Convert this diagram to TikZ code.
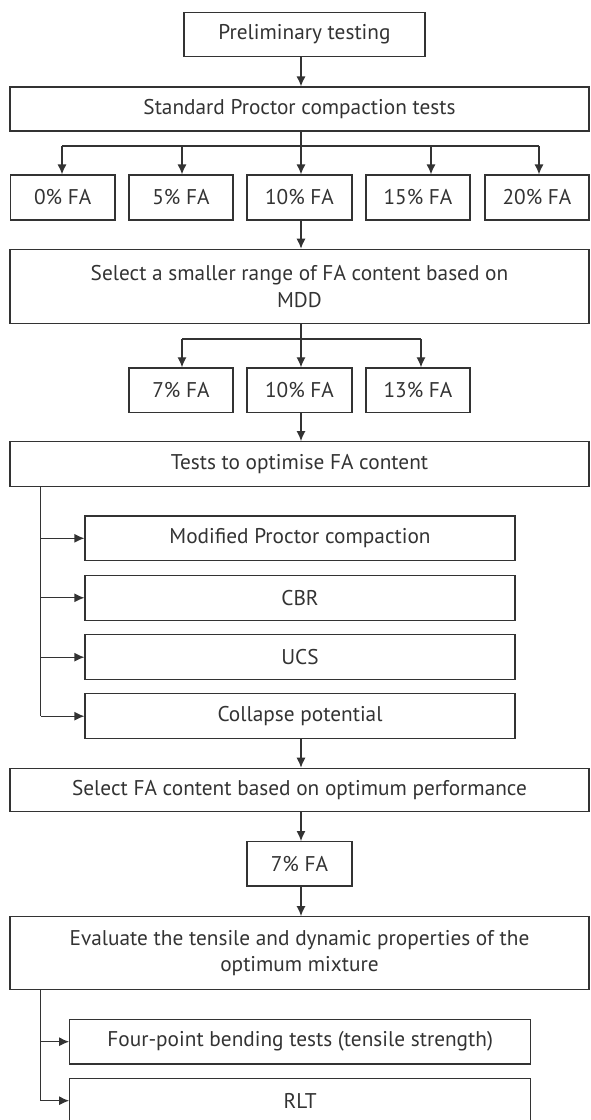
\documentclass[tikz,border=0pt]{standalone}
\usepackage{fontspec}
\setmainfont{PT Sans}
\usetikzlibrary{arrows.meta,calc}
\definecolor{ink}{HTML}{333333}
\tikzset{
  box/.style={draw=ink, line width=1.2pt, rectangle, inner sep=0pt, align=center,
    font=\fontsize{21.3}{26.6}\selectfont, text=ink},
  conn/.style={draw=ink, line width=1.2pt},
  arr/.style={draw=ink, line width=1.2pt, -{Latex[length=10pt,width=9pt]}},
}
\begin{document}
\begin{tikzpicture}[x=1pt,y=-1pt]
\useasboundingbox (0,0) rectangle (590,1120);
\node[box, minimum width=241pt, minimum height=44.4pt] (pre) at (304.5,34.5) {Preliminary testing};
\node[box, minimum width=579pt, minimum height=44pt] (spc) at (299.5,109) {Standard Proctor compaction tests};
\node[box, minimum width=104.5pt, minimum height=45pt] (fa0) at (62.75,197.5) {0\% FA};
\node[box, minimum width=104pt, minimum height=45pt] (fa5) at (181,197.5) {5\% FA};
\node[box, minimum width=105pt, minimum height=45pt] (fa10) at (299.5,197.5) {10\% FA};
\node[box, minimum width=104pt, minimum height=45pt] (fa15) at (418,197.5) {15\% FA};
\node[box, minimum width=104pt, minimum height=45pt] (fa20) at (537,197.5) {20\% FA};
\node[box, minimum width=579pt, minimum height=74pt] (sel) at (299.5,286.3) {Select a smaller range of FA content based on\\MDD};
\node[box, minimum width=104pt, minimum height=44.7pt] (b7) at (181,390.3) {7\% FA};
\node[box, minimum width=105pt, minimum height=44.7pt] (b10) at (299.5,390.3) {10\% FA};
\node[box, minimum width=104pt, minimum height=44.7pt] (b13) at (418,390.3) {13\% FA};
\node[box, minimum width=579pt, minimum height=45pt] (tests) at (299.5,464.2) {Tests to optimise FA content};
\node[box, minimum width=430pt, minimum height=44.7pt] (mod) at (300,538.3) {Modified Proctor compaction};
\node[box, minimum width=430pt, minimum height=44.7pt] (cbr) at (300,597.8) {CBR};
\node[box, minimum width=430pt, minimum height=44.7pt] (ucs) at (300,657.2) {UCS};
\node[box, minimum width=430pt, minimum height=44.7pt] (col) at (300,716.2) {Collapse potential};
\node[box, minimum width=579pt, minimum height=43.4pt] (selfa) at (299.5,790) {Select FA content based on optimum performance};
\node[box, minimum width=105pt, minimum height=44.3pt] (s7) at (299.5,863.8) {7\% FA};
\node[box, minimum width=579pt, minimum height=72.6pt] (eval) at (299.5,953) {Evaluate the tensile and dynamic properties of the\\optimum mixture};
\node[box, minimum width=461pt, minimum height=44.7pt] (four) at (300.2,1041.7) {Four-point bending tests (tensile strength)};
\node[box, minimum width=461pt, minimum height=44.7pt] (rlt) at (300.2,1100.7) {RLT};
% connectors
\coordinate (bus1) at (301,146);
\draw[arr] (pre.south -| bus1) -- (spc.north -| bus1);
\draw[conn] (spc.south -| bus1) -- (bus1);
\draw[conn] (62,146) -- (539,146);
\draw[arr] (62,146) -- (fa0.north -| 62,0);
\draw[arr] (182,146) -- (fa5.north -| 182,0);
\draw[arr] (bus1) -- (fa10.north -| bus1);
\draw[arr] (431,146) -- (fa15.north -| 431,0);
\draw[arr] (539,146) -- (fa20.north -| 539,0);
\draw[arr] (fa10.south -| bus1) -- (sel.north -| bus1);
\coordinate (bus2) at (301,339);
\draw[conn] (sel.south -| bus2) -- (bus2);
\draw[conn] (182,339) -- (421,339);
\draw[arr] (182,339) -- (b7.north -| 182,0);
\draw[arr] (bus2) -- (b10.north -| bus2);
\draw[arr] (421,339) -- (b13.north -| 421,0);
\draw[arr] (b10.south -| bus2) -- (tests.north -| bus2);
\coordinate (trunk1) at (40.6,716.2);
\draw[conn] (tests.south -| trunk1) -- (trunk1);
\draw[arr] (mod.west -| trunk1) -- (mod.west);
\draw[arr] (cbr.west -| trunk1) -- (cbr.west);
\draw[arr] (ucs.west -| trunk1) -- (ucs.west);
\draw[arr] (trunk1) -- (col.west);
\draw[arr] (col.south -| bus2) -- (selfa.north -| bus2);
\draw[arr] (selfa.south -| bus2) -- (s7.north -| bus2);
\draw[arr] (s7.south -| bus2) -- (eval.north -| bus2);
\coordinate (trunk2) at (40.6,1100.7);
\draw[conn] (eval.south -| trunk2) -- (trunk2);
\draw[arr] (four.west -| trunk2) -- (four.west);
\draw[arr] (trunk2) -- (rlt.west);
\end{tikzpicture}
\end{document}
